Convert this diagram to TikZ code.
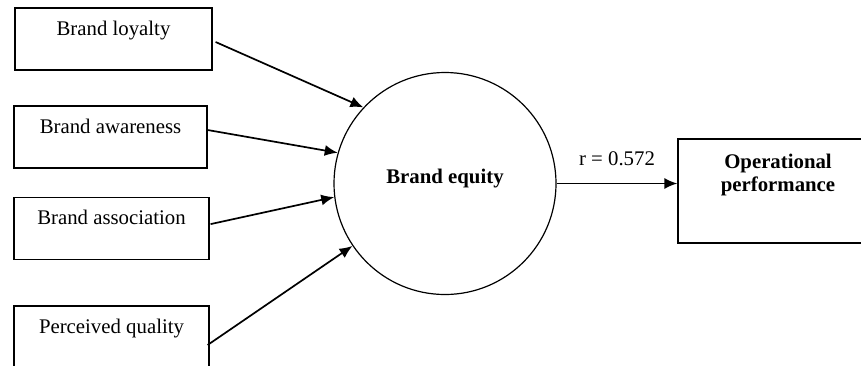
\documentclass[tikz,border=0pt]{standalone}
\usepackage{fontspec}
\setmainfont{Liberation Serif}
\usepackage{tikz}
\usetikzlibrary{arrows.meta}

\begin{document}
\begin{tikzpicture}[x=0.5pt, y=-0.5pt,
    font=\fontsize{10.4}{12}\selectfont,
    dim/.style={draw, line width=0.6pt, inner sep=0pt, minimum height=31pt,
                text height=13.5pt, text depth=17.5pt},
    arr/.style={-{Latex[length=6.5pt,width=5.5pt]}, line width=0.85pt}]

  % ====== 1) frame of the picture ======
  \clip (0,0) rectangle (861,365);

  % ====== 2) the four dimensions (boxes, text at the top) ======
  \node[dim, minimum width=98.5pt] (loyal)  at (113.5,39)  {Brand loyalty};
  \node[dim, minimum width=96.5pt] (aware)  at (110.5,137) {Brand awareness};
  \node[dim, minimum width=97.5pt] (assoc)  at (111.5,228.5) {Brand association};
  \node[dim, minimum width=97.5pt] (qual)   at (111.5,337) {Perceived quality};

  % ====== 3) brand equity (circle) ======
  \node[draw, circle, line width=0.6pt, minimum size=111pt, inner sep=0pt,
        text height=7pt, text depth=7pt, font=\fontsize{10.4}{12}\selectfont\bfseries]
        (equity) at (445,183.5) {Brand equity};

  % ====== 4) operational performance ======
  \node[draw, line width=0.6pt, inner sep=0pt, minimum width=100pt, minimum height=52pt,
        align=center, font=\fontsize{10.4}{11.5}\selectfont\bfseries]
        (perf) at (778,191) {Operational\\performance\\[7pt]\mbox{}};

  % ====== 5) arrows into brand equity ======
  \draw[arr] ([xshift=1.5pt,yshift=-1.5pt]loyal.east) -- (equity.137);
  \draw[arr] ([yshift=3.5pt]aware.east) -- (equity.164);
  \draw[arr] ([xshift=0.5pt,yshift=2.2pt]assoc.east) -- (equity.187);
  \draw[arr] ([xshift=-1pt,yshift=-4pt]qual.east) -- (equity.214);

  % ====== 6) the correlation arrow ======
  \draw[arr] (equity.east) -- (equity.east -| perf.west)
    node[midway, above=5pt] {r = 0.572};

\end{tikzpicture}
\end{document}
